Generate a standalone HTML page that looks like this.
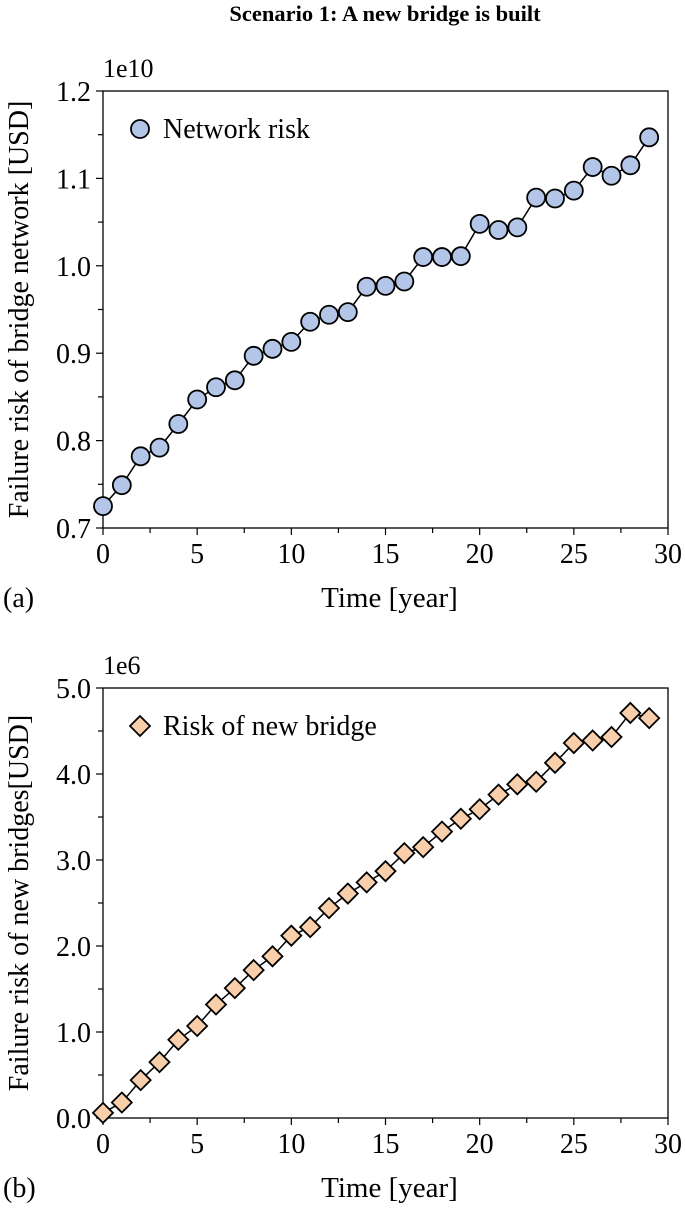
<!DOCTYPE html>
<html><head><meta charset="utf-8"><style>
body{margin:0;background:#fff}
svg text{font-family:"Liberation Serif",serif;fill:#000}
</style></head><body>
<svg id="c" width="685" height="1207" xmlns="http://www.w3.org/2000/svg">
<text x="385" y="21" text-anchor="middle" font-size="22.5" font-weight="bold">Scenario 1: A new bridge is built</text>
</svg>
<script>
const years=[0,1,2,3,4,5,6,7,8,9,10,11,12,13,14,15,16,17,18,19,20,21,22,23,24,25,26,27,28,29];
const networkRisk=[0.725,0.749,0.782,0.792,0.819,0.847,0.861,0.869,0.897,0.905,0.913,0.936,0.944,0.947,0.976,0.977,0.982,1.010,1.010,1.011,1.048,1.041,1.044,1.078,1.077,1.086,1.113,1.103,1.115,1.147];
const newBridgeRisk=[0.06,0.18,0.44,0.65,0.91,1.07,1.32,1.51,1.72,1.88,2.12,2.22,2.44,2.61,2.74,2.87,3.08,3.15,3.33,3.48,3.59,3.76,3.88,3.91,4.13,4.36,4.39,4.43,4.71,4.65];
const xTicks=[0,5,10,15,20,25,30];
const yTicksA=[0.7,0.8,0.9,1.0,1.1,1.2];
const yTicksB=[0,1,2,3,4,5];
const svg=document.getElementById('c');
const NS='http://www.w3.org/2000/svg';
function mk(tag,attrs,parent){const e=document.createElementNS(NS,tag);for(const k in attrs)e.setAttribute(k,attrs[k]);(parent||svg).appendChild(e);return e;}
function panel(cfg){
  const g=mk('g',{});
  
  
  const L=103,R=668,T=cfg.top,B=cfg.bottom;
  const xs=v=>L+(v-0)/30*(R-L);
  const ys=v=>B-(v-cfg.ymin)/(cfg.ymax-cfg.ymin)*(B-T);
  const fr=mk('rect',{x:L,y:T,width:R-L,height:B-T,fill:'none',stroke:'#000','stroke-width':1.3},g);
  
  
  for(let v=0;v<=30;v+=2.5){mk('line',{x1:xs(v),x2:xs(v),y1:B,y2:B+(v%5===0?7:5),stroke:'#000','stroke-width':1.2},g);}
  xTicks.forEach(v=>{const t=mk('text',{x:xs(v),y:B+35,'text-anchor':'middle','font-size':28},g);t.textContent=v;
    
    });
  const step=(cfg.ymax-cfg.ymin)/10;
  for(let i=0;i<=10;i++){const y=ys(cfg.ymin+i*step);mk('line',{x1:L,x2:L-(i%2===0?7:5),y1:y,y2:y,stroke:'#000','stroke-width':1.2},g);}
  cfg.yTicks.forEach(v=>{const t=mk('text',{x:L-12,y:ys(v)+10,'text-anchor':'end','font-size':28},g);t.textContent=v.toFixed(1);
    
    });
  const ex=mk('text',{x:L,y:T-14,'font-size':26},g);ex.textContent=cfg.exp;
  
  
  const yt=mk('text',{x:0,y:0,'text-anchor':'middle','font-size':28,transform:`translate(28,${(T+B)/2}) rotate(-90)`},g);yt.textContent=cfg.ylabel;
  
  
  const xt=mk('text',{x:(L+R)/2+4,y:B+79,'text-anchor':'middle','font-size':29},g);xt.textContent='Time [year]';
  
  
  const pl=mk('text',{x:3,y:B+79,'font-size':28},g);pl.textContent=cfg.letter;
  
  
  const pts=years.map((x,i)=>xs(x)+','+ys(cfg.data[i])).join(' ');
  const ln=mk('polyline',{points:pts,fill:'none',stroke:'#000','stroke-width':1.5},g);
  
  
  function marker(x,y){
    let m;
    if(cfg.shape==='circle') m=mk('circle',{cx:x,cy:y,r:9,fill:cfg.color,stroke:'#000','stroke-width':1.8},g);
    else m=mk('polygon',{points:`${x},${y-10} ${x+10},${y} ${x},${y+10} ${x-10},${y}`,fill:cfg.color,stroke:'#000','stroke-width':1.8},g);
    return m;
  }
  years.forEach((x,i)=>{const m=marker(xs(x),ys(cfg.data[i]));
    
    });
  const lm=marker(140,T+38);
  
  
  const lt=mk('text',{x:163,y:T+47,'font-size':28},g);lt.textContent=cfg.legend;
  
  
}
panel({name:'chart-network-risk',top:91,bottom:528,ymin:0.7,ymax:1.2,yTicks:yTicksA,data:networkRisk,exp:'1e10',
  ylabel:'Failure risk of bridge network [USD]',letter:'(a)',shape:'circle',color:'#b4c6e7',legend:'Network risk'});
panel({name:'chart-new-bridge-risk',top:688,bottom:1118,ymin:0,ymax:5,yTicks:yTicksB,data:newBridgeRisk,exp:'1e6',
  ylabel:'Failure risk of new bridges[USD]',letter:'(b)',shape:'diamond',color:'#f8cfaa',legend:'Risk of new bridge'});
</script>
</body></html>
